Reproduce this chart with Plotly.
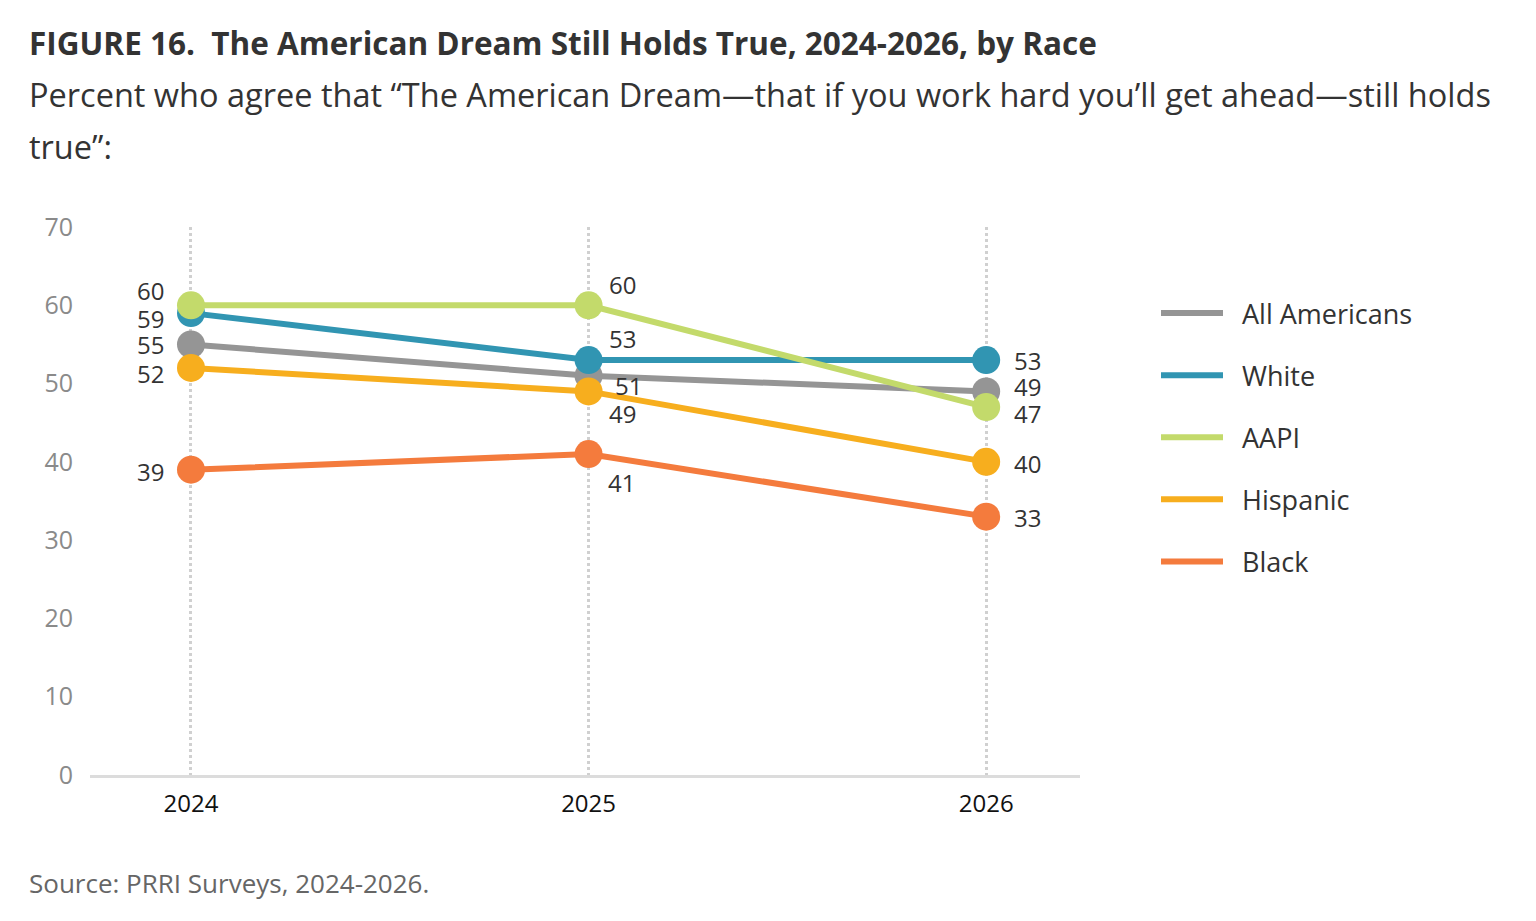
import plotly.graph_objects as go

# Données
years = [2024, 2025, 2026]
series_names = ["All Americans", "White", "AAPI", "Hispanic", "Black"]
all_americans = [55, 51, 49]
white = [59, 53, 53]
aapi = [60, 60, 47]
hispanic = [52, 49, 40]
black = [39, 41, 33]

values = {
    "All Americans": all_americans,
    "White": white,
    "AAPI": aapi,
    "Hispanic": hispanic,
    "Black": black,
}

colors = {
    "All Americans": "#959595",
    "White": "#3195B2",
    "AAPI": "#C3DA6B",
    "Hispanic": "#F7AE1E",
    "Black": "#F47B3D",
}

# décalages des étiquettes (px) : (xshift, yshift) pour chaque année
label_offsets = {
    "All Americans": [(-40, 0), (40, -10), (41, 5)],
    "White": [(-40, -5), (34, 22), (41, 0)],
    "AAPI": [(-40, 15), (34, 21), (41, -6)],
    "Hispanic": [(-40, -6), (34, -22), (41, -2)],
    "Black": [(-40, -2), (33, -28), (41, -1)],
}

draw_order = ["All Americans", "White", "Hispanic", "Black", "AAPI"]

FONT = "Open Sans, Noto Sans, sans-serif"

# la figure occupe la page moins la marge de 8 px du body
PLOT_L, PLOT_T, PLOT_H = 90, 227, 548


def py(pix):
    """position verticale en pixels -> coordonnée papier"""
    return (PLOT_T + PLOT_H - pix) / PLOT_H


X_TEXT = (27 - PLOT_L) / 990

fig = go.Figure()

for name in draw_order:
    fig.add_trace(go.Scatter(
        x=years,
        y=values[name],
        mode="lines+markers",
        name=name,
        showlegend=False,
        line=dict(color=colors[name], width=6),
        marker=dict(size=28, color=colors[name]),
        hoverinfo="skip",
    ))

# traces pour la légende (ligne seule)
for i, name in enumerate(series_names):
    fig.add_trace(go.Scatter(
        x=[None],
        y=[None],
        mode="lines",
        name="\u00a0\u00a0" + name,
        legendgroup=f"g{i}",
        line=dict(color=colors[name], width=6),
    ))

annotations = []
for name in series_names:
    for j, yr in enumerate(years):
        dx, dy = label_offsets[name][j]
        annotations.append(dict(
            x=yr, y=values[name][j], xref="x", yref="y",
            text=str(values[name][j]), showarrow=False,
            xshift=dx, yshift=dy,
            font=dict(family=FONT, size=24, color="#333333"),
        ))

# titre, sous-titre, source
annotations.append(dict(
    xref="paper", yref="paper", x=X_TEXT, y=py(42),
    xanchor="left", yanchor="middle", showarrow=False,
    text="<b>FIGURE 16.\u00a0 The American Dream Still Holds True, 2024-2026, by Race</b>",
    font=dict(family=FONT, size=31.5, color="#333333"),
))
annotations.append(dict(
    xref="paper", yref="paper", x=X_TEXT, y=py(95),
    xanchor="left", yanchor="middle", showarrow=False,
    text="Percent who agree that \u201cThe American Dream\u2014that if you work hard you\u2019ll get ahead\u2014still holds",
    font=dict(family=FONT, size=32.5, color="#333333"),
))
annotations.append(dict(
    xref="paper", yref="paper", x=X_TEXT, y=py(147),
    xanchor="left", yanchor="middle", showarrow=False,
    text="true\u201d:",
    font=dict(family=FONT, size=32.5, color="#333333"),
))
annotations.append(dict(
    xref="paper", yref="paper", x=X_TEXT, y=py(883),
    xanchor="left", yanchor="middle", showarrow=False,
    text="Source: PRRI Surveys, 2024-2026.",
    font=dict(family=FONT, size=26, color="#666666"),
))

fig.update_layout(
    paper_bgcolor="white",
    plot_bgcolor="white",
    margin=dict(l=82, r=448, t=219, b=138),
    font=dict(family=FONT),
    annotations=annotations,
    legend=dict(
        x=(1156 - PLOT_L) / 990, y=py(289), xanchor="left", yanchor="top",
        font=dict(family=FONT, size=27, color="#333333"),
        tracegroupgap=24,
        traceorder="grouped",
        itemwidth=62,
        bgcolor="rgba(0,0,0,0)",
    ),
    hovermode=False,
)

fig.update_xaxes(
    range=[2023.746, 2026.236],
    tickvals=years,
    ticktext=[str(y) for y in years],
    tickfont=dict(family=FONT, size=24, color="#111111"),
    showgrid=True,
    gridcolor="#d0d0d0",
    gridwidth=2.5,
    griddash="dot",
    showline=True,
    linecolor="#dcdcdc",
    linewidth=3,
    ticks="",
    zeroline=False,
    ticklabelstandoff=5,
)

fig.update_yaxes(
    range=[0, 70],
    tickvals=[0, 10, 20, 30, 40, 50, 60, 70],
    tickfont=dict(family=FONT, size=25, color="#8a8a8a"),
    showgrid=False,
    zeroline=False,
    showline=False,
    ticks="",
    ticklabelstandoff=16,
)

fig.write_html("out.html")
